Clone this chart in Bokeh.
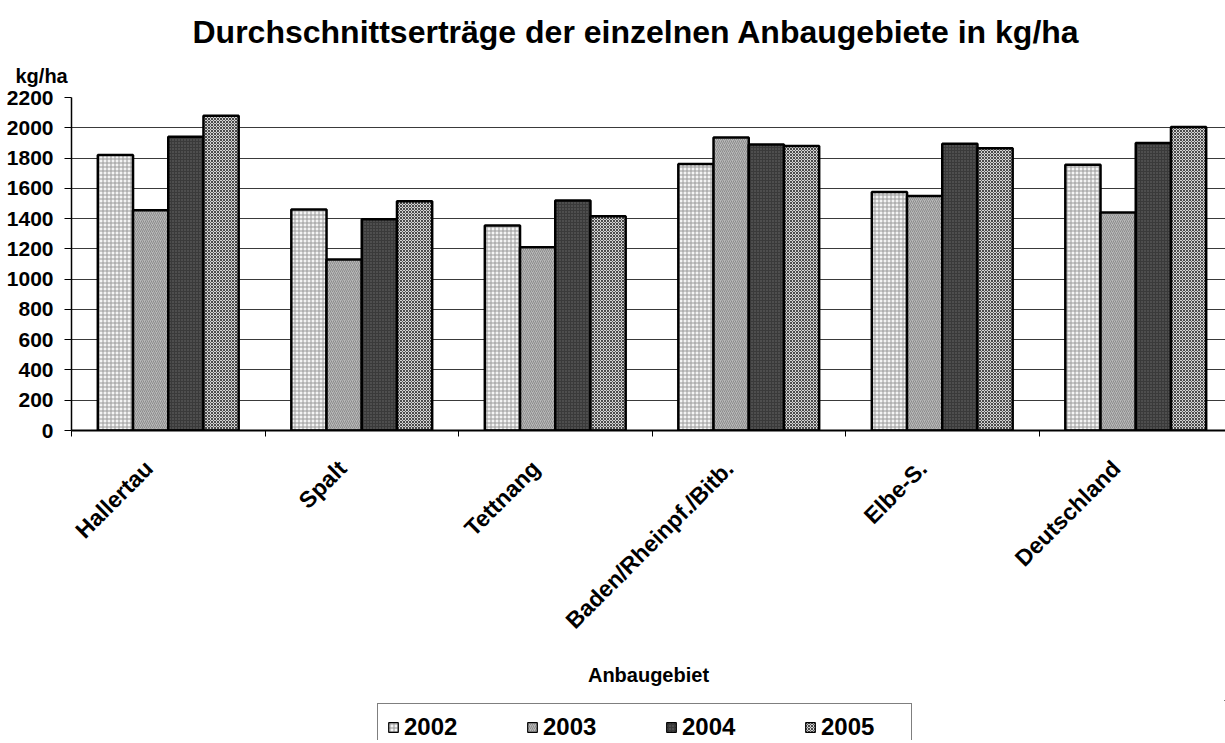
import math
import numpy as np
from bokeh.plotting import figure
from bokeh.layouts import column
from bokeh.models import (ColumnDataSource, Range1d, FixedTicker, Legend,
                          LegendItem, Title)
from bokeh.transform import dodge
from bokeh.embed import file_html
from bokeh.resources import INLINE

# ---------------- data ----------------
categories = ["Hallertau", "Spalt", "Tettnang", "Baden/Rheinpf./Bitb.",
              "Elbe-S.", "Deutschland"]
years = ["2002", "2003", "2004", "2005"]
y2002 = [1820, 1460, 1355, 1760, 1575, 1755]
y2003 = [1455, 1130, 1210, 1935, 1550, 1440]
y2004 = [1940, 1395, 1520, 1890, 1895, 1900]
y2005 = [2080, 1515, 1415, 1880, 1865, 2005]
y_ticks = list(range(0, 2201, 200))

title_text = "Durchschnittserträge der einzelnen Anbaugebiete in kg/ha"
y_unit = "kg/ha"
x_title = "Anbaugebiet"

FONT = "Liberation Sans"

xc = list(np.arange(len(categories)) + 0.5)
label_shift = 0.1          # category labels sit a little left of centre
label_pos = [x - label_shift for x in xc]
source = ColumnDataSource(dict(xc=xc, y2002=y2002, y2003=y2003,
                               y2004=y2004, y2005=y2005))

W = 1225
p = figure(width=W, height=700, output_backend="svg", toolbar_location=None,
           title=None,
           x_range=Range1d(0, (W - 71) / 193.5), y_range=Range1d(0, 2200),
           min_border_left=71, min_border_right=0, min_border_top=97,
           min_border_bottom=270)
p.outline_line_color = None
p.background_fill_color = "white"
p.border_fill_color = "white"

bar_w = 0.182
offsets = [-1.5 * bar_w, -0.5 * bar_w, 0.5 * bar_w, 1.5 * bar_w]
styles = [
    dict(fill_color="#f4f4f4", hatch_pattern="+", hatch_color="#9a9a9a",
         hatch_scale=4, hatch_weight=1),
    dict(fill_color="#b8b8b8", hatch_pattern="/", hatch_color="#8c8c8c",
         hatch_scale=4, hatch_weight=1),
    dict(fill_color="#3a3a3a", hatch_pattern=".", hatch_color="#6a6a6a",
         hatch_scale=3, hatch_weight=1),
    dict(fill_color="#d4d4d4", hatch_pattern="x", hatch_color="#4a4a4a",
         hatch_scale=3, hatch_weight=1),
]
for yr, off, st in zip(years, offsets, styles):
    p.vbar(x=dodge("xc", off, range=p.x_range), top="y" + yr, bottom=0,
           width=bar_w, source=source, line_color="black", line_width=2.5,
           **st)

# ---- axes ----
xa = p.xaxis[0]
xa.ticker = FixedTicker(ticks=label_pos,
                        minor_ticks=list(range(len(categories) + 1)))
xa.major_label_overrides = {float(x): c for x, c in zip(label_pos, categories)}
xa.major_label_orientation = math.pi / 4
xa.major_tick_in = 0
xa.major_tick_out = 0
xa.minor_tick_in = 0
xa.minor_tick_out = 6
xa.minor_tick_line_color = "black"
xa.minor_tick_line_width = 1
xa.axis_line_color = "black"
xa.axis_line_width = 2
xa.major_label_text_font = FONT
xa.major_label_text_font_style = "bold"
xa.major_label_text_font_size = "23px"
xa.major_label_text_color = "black"
xa.major_label_standoff = 28
xa.axis_label = x_title
xa.axis_label_text_font = FONT
xa.axis_label_text_font_style = "bold"
xa.axis_label_text_font_size = "20px"
xa.axis_label_text_color = "black"
xa.axis_label_standoff = 18

ya = p.yaxis[0]
ya.ticker = FixedTicker(ticks=y_ticks, minor_ticks=[])
ya.major_tick_in = 0
ya.major_tick_out = 7
ya.major_tick_line_color = "black"
ya.axis_line_color = "black"
ya.axis_line_width = 1.5
ya.major_label_text_font = FONT
ya.major_label_text_font_style = "bold"
ya.major_label_text_font_size = "21px"
ya.major_label_text_color = "black"
ya.major_label_standoff = 11

p.xgrid.visible = False
p.ygrid.ticker = FixedTicker(ticks=y_ticks, minor_ticks=[])
p.ygrid.grid_line_color = "#3a3a3a"
p.ygrid.grid_line_width = 1

# ---- titles (unit label closest to the frame, main title above it) ----
p.add_layout(Title(text=y_unit, align="left", offset=-56, standoff=22,
                   text_font=FONT, text_font_style="bold",
                   text_font_size="20px", text_color="black"), "above")
p.add_layout(Title(text=title_text, align="left", offset=121, standoff=4,
                   text_font=FONT, text_font_style="bold",
                   text_font_size="32px", text_color="black"), "above")

# ---- legend strip (swatches come from the same series, kept off-screen) ----
q = figure(width=W, height=40, output_backend="svg", toolbar_location=None,
           title=None, x_axis_type=None, y_axis_type=None,
           x_range=Range1d(-3, -2), y_range=Range1d(-3, -2), min_border=0)
q.outline_line_color = None
q.xgrid.visible = False
q.ygrid.visible = False
q.background_fill_color = "white"
q.border_fill_color = "white"
items = []
for yr, st in zip(years, styles):
    r = q.vbar(x="xc", top="y" + yr, bottom=0, width=bar_w, source=source,
               line_color="black", line_width=1.2, **st)
    items.append(LegendItem(label=yr, renderers=[r]))
legend = Legend(items=items, orientation="horizontal", location=(306, -11),
                border_line_color="black", border_line_width=1.5,
                padding=9, spacing=41, label_standoff=5, label_width=81,
                glyph_width=12, glyph_height=12,
                label_text_font=FONT, label_text_font_style="bold",
                label_text_font_size="24px", label_text_color="black",
                margin=0, background_fill_color="white")
q.add_layout(legend, "center")

layout = column(p, q, spacing=0, styles={"overflow": "hidden"})
open("out.html", "w").write(file_html(layout, INLINE))
